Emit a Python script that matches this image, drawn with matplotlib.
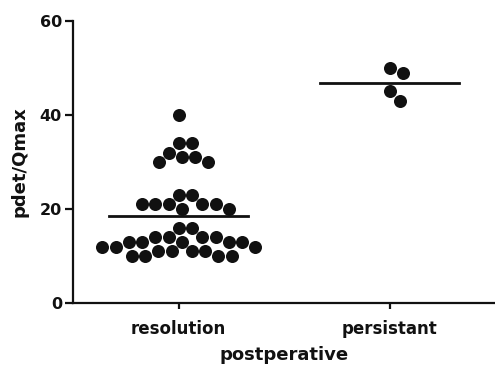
import numpy as np
import matplotlib
matplotlib.use("Agg")
import matplotlib.pyplot as plt

categories = ["resolution", "persistant"]
resolution = [40, 34, 34, 32, 31, 31, 30, 30, 23, 23,
              21, 21, 21, 21, 21, 20, 20, 16, 16,
              14, 14, 14, 14,
              13, 13, 13, 13, 13,
              12, 12, 12,
              11, 11, 11, 11,
              10, 10, 10, 10]
persistant = [50, 49, 45, 43]
groups = [resolution, persistant]
yticks = [0, 20, 40, 60]

plt.rcParams['font.family'] = ['DejaVu Sans']

fig = plt.figure(figsize=(4.95, 3.67), dpi=100)
ax = fig.add_axes([0.1475, 0.1744, 0.8525, 0.7684])
ax.set_xlim(-0.5, 1.5)
ax.set_ylim(0, 60)

# pixel scale for swarm layout
bbox = ax.get_window_extent()
px_per_x = bbox.width / 2.0
px_per_y = bbox.height / 60.0
diam = 13.5

def swarm(values, center):
    order = np.argsort(-np.asarray(values), kind="stable")
    placed = []
    xs = np.zeros(len(values))
    for idx in order:
        yv = values[idx] * px_per_y
        best = None
        for step in range(0, 400):
            for sgn in ([1] if step == 0 else [1, -1]):
                cand = sgn * step * 0.5
                ok = all((cand - px) ** 2 + (yv - py) ** 2 >= diam ** 2 for px, py in placed)
                if ok:
                    best = cand
                    break
            if best is not None:
                break
        placed.append((best, yv))
        xs[idx] = center + best / px_per_x
    return xs

for i, vals in enumerate(groups):
    xs = swarm(vals, i)
    ax.scatter(xs, vals, s=88, color="#111111", zorder=3, linewidths=0)
    m = np.mean(vals)
    ax.plot([i - 0.33, i + 0.33], [m, m], color="#111111", lw=2, zorder=2)

for s in ["top", "right"]:
    ax.spines[s].set_visible(False)
for s in ["left", "bottom"]:
    ax.spines[s].set_linewidth(1.6)
    ax.spines[s].set_color("#111111")

ax.set_yticks(yticks)
ax.set_xticks([0, 1])
ax.set_xticklabels(categories)
ax.tick_params(axis="y", length=6, width=1.6, labelsize=11.5, pad=2, colors="#111111")
ax.tick_params(axis="x", length=4, width=1.6, labelsize=12, pad=8, colors="#111111")
for lab in ax.get_xticklabels() + ax.get_yticklabels():
    lab.set_fontweight("bold")

ax.set_ylabel("pdet/Qmax", fontsize=13, fontweight="bold", color="#111111", labelpad=8)
ax.set_xlabel("postperative", fontsize=13, fontweight="bold", color="#111111", labelpad=6)

fig.savefig("out.png", dpi=100)
